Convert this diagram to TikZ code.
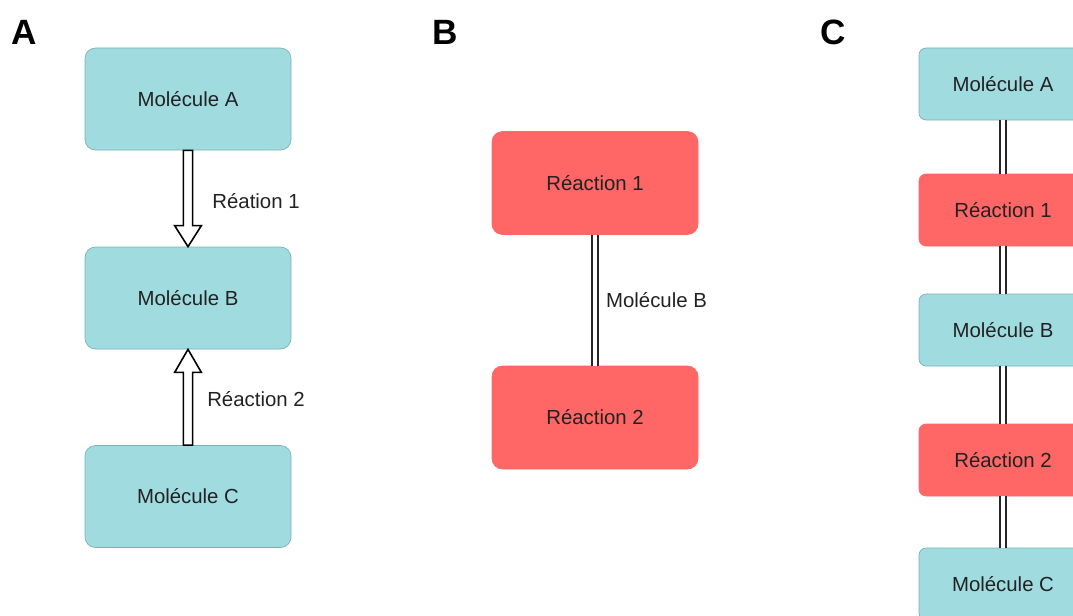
\documentclass[tikz,border=0pt]{standalone}
\usepackage{fontspec}
\setmainfont{Liberation Sans}
\usepackage{tikz}
\usetikzlibrary{positioning, calc}
\definecolor{molfill}{RGB}{160,220,223}
\definecolor{molline}{RGB}{120,178,182}
\definecolor{reacfill}{RGB}{255,102,102}
\definecolor{texte}{RGB}{34,34,34}

\begin{document}
\begin{tikzpicture}[
  mol/.style={rectangle, draw=molline, fill=molfill, rounded corners=6pt,
              minimum width=4.12cm, minimum height=2.04cm,
              text centered, font=\fontsize{11.6}{13}\selectfont, text=texte},
  reac/.style={rectangle, draw=reacfill, fill=reacfill, rounded corners=6pt,
               minimum width=4.12cm, minimum height=2.06cm,
               text centered, font=\fontsize{11.6}{13}\selectfont, text=texte},
  petit/.style={minimum width=3.36cm, minimum height=1.44cm, rounded corners=4pt},
  lbl/.style={font=\fontsize{11.6}{13}\selectfont, text=texte},
  lettre/.style={font=\fontsize{20}{24}\selectfont\bfseries},
  creux/.style={draw=black, fill=white, line width=0.9pt, line join=miter},
  dbl/.style={draw=black!85, double=white, double distance=0.09cm, line width=0.85pt},
]
\clip (0,0) rectangle (21.46,-12.3);
\useasboundingbox (0,0) rectangle (21.46,-12.3);

% Lettres des panneaux
\node[lettre] at (0.48,-0.64)  (pA) {A};
\node[lettre] at (8.9,-0.64)   (pB) {B};
\node[lettre] at (16.66,-0.64) (pC) {C};

% Panneau A
\node[mol] at (3.76,-1.98) (molA) {Molécule A};
\node[mol] at (3.76,-5.96) (molB) {Molécule B};
\node[mol] at (3.76,-9.93) (molC) {Molécule C};

% A -> B
\draw[creux] ($(molA.south)+(-0.092,0)$) -- ($(molB.north)+(-0.092,0.42)$)
  -- ++(-0.175,0) -- (molB.north) -- ($(molB.north)+(0.267,0.42)$)
  -- ++(-0.175,0) -- ($(molA.south)+(0.092,0)$) -- cycle;
\node[lbl] at ($(molA.south)!0.5!(molB.north)+(1.36,-0.05)$) (r1A) {Réation 1};

% C -> B
\draw[creux] ($(molC.north)+(-0.092,0)$) -- ($(molB.south)+(-0.092,-0.46)$)
  -- ++(-0.175,0) -- (molB.south) -- ($(molB.south)+(0.267,-0.46)$)
  -- ++(-0.175,0) -- ($(molC.north)+(0.092,0)$) -- cycle;
\node[lbl] at ($(molB.south)!0.5!(molC.north)+(1.36,-0.04)$) (r2A) {Réaction 2};

% Panneau B
\node[reac] at (11.9,-3.66) (reac1) {Réaction 1};
\node[reac] at (11.9,-8.35) (reac2) {Réaction 2};
\draw[dbl] (reac1) -- node[lbl, right, xshift=0.09cm]{Molécule B} (reac2);

% Panneau C
\node[mol, petit]  at (20.06,-1.68)  (cmolA)  {Molécule A};
\node[reac, petit] at (20.06,-4.2)   (creac1) {Réaction 1};
\node[mol, petit]  at (20.06,-6.6)   (cmolB)  {Molécule B};
\node[reac, petit] at (20.06,-9.2)   (creac2) {Réaction 2};
\node[mol, petit]  at (20.06,-11.68) (cmolC)  {Molécule C};

\draw[dbl] (cmolA)  -- (creac1);
\draw[dbl] (creac1) -- (cmolB);
\draw[dbl] (cmolB)  -- (creac2);
\draw[dbl] (creac2) -- (cmolC);

\end{tikzpicture}
\end{document}
